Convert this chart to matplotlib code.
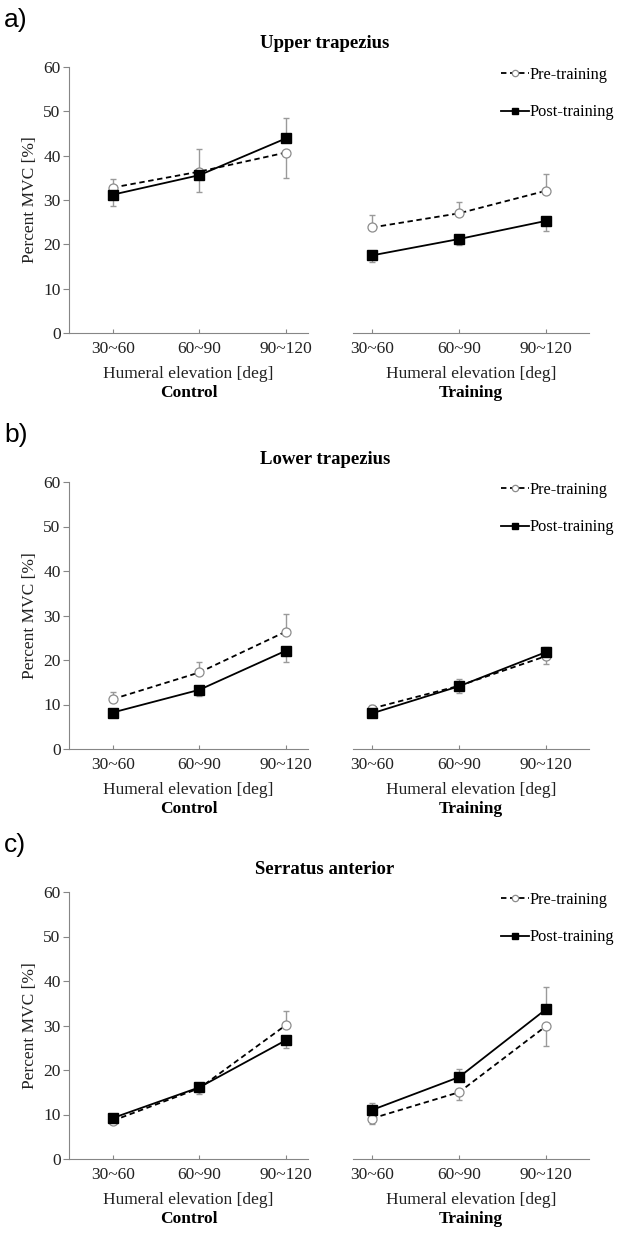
import matplotlib
matplotlib.use('Agg')
import matplotlib.pyplot as plt
import numpy as np

# data
categories = ['30~60', '60~90', '90~120']
muscles = ['Upper trapezius', 'Lower trapezius', 'Serratus anterior']
panel_tags = ['a)', 'b)', 'c)']
groups = ['Control', 'Training']

pre_upper_ctrl = [32.8, 36.4, 40.7]
post_upper_ctrl = [31.2, 35.6, 43.9]
pre_upper_ctrl_err = [2.0, 5.1, 5.7]
post_upper_ctrl_err = [2.5, 3.8, 4.5]
pre_upper_train = [23.8, 27.0, 32.1]
post_upper_train = [17.5, 21.2, 25.3]
pre_upper_train_err = [2.8, 2.5, 3.7]
post_upper_train_err = [1.4, 1.3, 2.2]

pre_lower_ctrl = [11.2, 17.2, 26.4]
post_lower_ctrl = [8.2, 13.3, 22.1]
pre_lower_ctrl_err = [1.7, 2.3, 4.0]
post_lower_ctrl_err = [0.6, 1.5, 2.6]
pre_lower_train = [9.1, 14.2, 20.9]
post_lower_train = [8.0, 14.1, 21.8]
pre_lower_train_err = [0.7, 1.5, 1.8]
post_lower_train_err = [0.9, 1.6, 1.2]

pre_serr_ctrl = [8.6, 15.9, 30.1]
post_serr_ctrl = [9.2, 16.1, 26.7]
pre_serr_ctrl_err = [0.5, 1.3, 3.2]
post_serr_ctrl_err = [0.4, 0.8, 1.8]
pre_serr_train = [9.1, 15.0, 29.9]
post_serr_train = [11.0, 18.4, 33.7]
pre_serr_train_err = [1.3, 1.7, 4.4]
post_serr_train_err = [1.5, 1.9, 4.9]

panels = [
    [(pre_upper_ctrl, pre_upper_ctrl_err, post_upper_ctrl, post_upper_ctrl_err),
     (pre_upper_train, pre_upper_train_err, post_upper_train, post_upper_train_err)],
    [(pre_lower_ctrl, pre_lower_ctrl_err, post_lower_ctrl, post_lower_ctrl_err),
     (pre_lower_train, pre_lower_train_err, post_lower_train, post_lower_train_err)],
    [(pre_serr_ctrl, pre_serr_ctrl_err, post_serr_ctrl, post_serr_ctrl_err),
     (pre_serr_train, pre_serr_train_err, post_serr_train, post_serr_train_err)],
]

W, H = 617, 1234
serif = ['Liberation Serif', 'DejaVu Serif']
plt.rcParams['font.family'] = serif
spine_col = '#868686'
err_col = '#9a9a9a'

fig = plt.figure(figsize=(W / 100, H / 100), dpi=100)

def px_axes(x0, x1, top, bottom):
    return fig.add_axes([x0 / W, 1 - bottom / H, (x1 - x0) / W, (bottom - top) / H])

tops = [67, 482, 892]
bottoms = [333, 749, 1159]
x = np.arange(len(categories))

for p in range(3):
    top, bot = tops[p], bottoms[p]
    axes = [px_axes(69, 308, top, bot), px_axes(353, 589, top, bot)]
    for g, ax in enumerate(axes):
        pre, pre_e, post, post_e = panels[p][g]
        pre = np.array(pre); post = np.array(post)
        pre_e = np.array(pre_e); post_e = np.array(post_e)
        # one-sided error bars: the higher mean gets its bar upward
        up = pre >= post
        pre_yerr = [np.where(up, 0, pre_e), np.where(up, pre_e, 0)]
        post_yerr = [np.where(up, post_e, 0), np.where(up, 0, post_e)]
        ax.errorbar(x, pre, yerr=pre_yerr, fmt='none', ecolor=err_col,
                    elinewidth=1, capsize=2, capthick=1, zorder=2)
        ax.errorbar(x, post, yerr=post_yerr, fmt='none', ecolor=err_col,
                    elinewidth=1, capsize=2, capthick=1, zorder=2)
        ax.plot(x, pre, color='black', linestyle=(0, (3, 2)), linewidth=1.3,
                marker='o', markersize=6.5, markerfacecolor='white',
                markeredgecolor='#8c8c8c', markeredgewidth=0.9, label='Pre-training', zorder=3)
        ax.plot(x, post, color='black', linestyle='-', linewidth=1.3,
                marker='s', markersize=7, markerfacecolor='black',
                markeredgecolor='black', label='Post-training', zorder=4)
        ax.set_ylim(0, 60)
        ax.set_xticks(x)
        ax.set_xticklabels(categories, fontsize=12.5, color='#222222')
        ax.tick_params(axis='x', direction='in', length=3, color=spine_col, pad=6)
        for s in ['top', 'right']:
            ax.spines[s].set_visible(False)
        ax.spines['bottom'].set_color(spine_col)
        ax.spines['left'].set_color(spine_col)
        ax.set_xlabel('Humeral elevation [deg]', fontsize=12.5, color='#222222', labelpad=6)
        ax.text(0.5, -0.225, groups[g], transform=ax.transAxes, ha='center', va='center',
                fontsize=12.5, fontweight='bold')
        if g == 0:
            ax.set_xlim(-0.504, 2.254)
            ax.set_yticks(np.arange(0, 61, 10))
            ax.tick_params(axis='y', direction='out', length=4, color=spine_col,
                           labelsize=12.5, labelcolor='#222222', pad=2)
            ax.set_ylabel('Percent MVC [%]', fontsize=12.5, color='#222222', labelpad=4)
        else:
            ax.set_xlim(-0.216, 2.49)
            ax.spines['left'].set_visible(False)
            ax.set_yticks([])
            ax.legend(loc='upper left', bbox_to_anchor=(148 / 236, 1.0), frameon=False,
                      fontsize=11.8, handlelength=1.7, handletextpad=0.05,
                      labelspacing=1.3, borderaxespad=0, borderpad=0, markerscale=0.7)
    fig.text(325 / W, 1 - (top - 23) / H, muscles[p], ha='center', va='center',
             fontsize=13.5, fontweight='bold')
    fig.text(4 / W, 1 - (top - 47) / H, panel_tags[p], ha='left', va='center',
             fontsize=19, family=['Liberation Sans', 'DejaVu Sans'])

fig.savefig('out.png', dpi=100)
